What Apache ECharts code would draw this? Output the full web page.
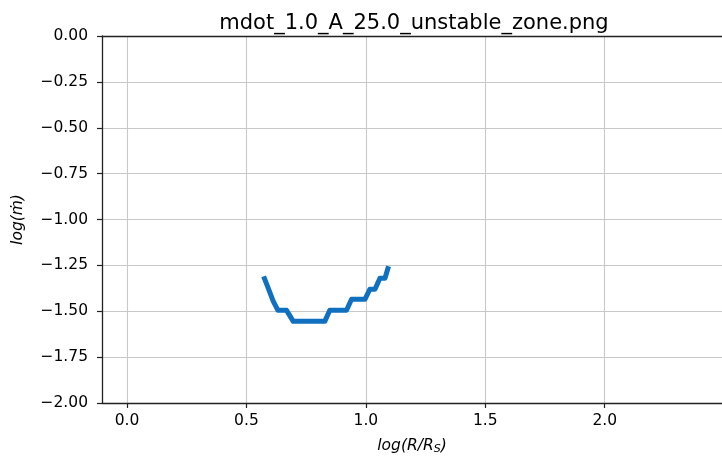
<!DOCTYPE html>
<html>
<head>
<meta charset="utf-8">
<script src="https://cdn.jsdelivr.net/npm/echarts@6/dist/echarts.min.js"></script>
<style>html,body{margin:0;padding:0;background:#fff}#c{width:722px;height:457px}</style>
</head>
<body>
<div id="c"></div>
<script>
const titleText = 'mdot_1.0_A_25.0_unstable_zone.png';
const xTicks = [0.0, 0.5, 1.0, 1.5, 2.0];
const yTicks = [0, -0.25, -0.5, -0.75, -1.0, -1.25, -1.5, -1.75, -2.0];
const logR = [0.572, 0.59, 0.612, 0.632, 0.668, 0.696, 0.72, 0.78, 0.828, 0.849, 0.919, 0.94, 0.996, 1.017, 1.038, 1.059, 1.08, 1.095];
const logMdot = [-1.31, -1.37, -1.445, -1.495, -1.495, -1.555, -1.555, -1.555, -1.555, -1.495, -1.495, -1.435, -1.435, -1.38, -1.38, -1.32, -1.32, -1.255];

const font = 'DejaVu Sans';
const chart = echarts.init(document.getElementById('c'), null, {renderer: 'canvas'});
const xMin = -0.1047, xMax = 2.491;
chart.setOption({
  animation: false,
  backgroundColor: '#fff',
  title: {
    text: titleText, left: 409, top: 8, textAlign: 'center',
    textStyle: {fontFamily: font, fontSize: 21, fontWeight: 'normal', color: '#000'}
  },
  grid: {left: 102, top: 36, right: 0, bottom: 54, containLabel: false, outerBoundsMode: 'none'},
  xAxis: [{
    type: 'value', min: xMin, max: xMax,
    name: '{i|log(R/R}{s|S}{i|)}', nameLocation: 'middle', nameGap: 33,
    nameTextStyle: {
      rich: {
        i: {fontFamily: font, fontStyle: 'italic', fontSize: 15.5, color: '#000', lineHeight: 20},
        s: {fontFamily: font, fontStyle: 'italic', fontSize: 11, color: '#000', lineHeight: 20, padding: [7, 0, 0, 0]}
      }
    },
    axisLine: {show: true, onZero: false, lineStyle: {color: '#222', width: 1.3}},
    axisTick: {show: true, inside: false, length: 5, customValues: xTicks, lineStyle: {color: '#222', width: 1.2}},
    axisLabel: {show: true, customValues: xTicks, margin: 10, fontFamily: font, fontSize: 15.5, color: '#000',
      formatter: v => v.toFixed(1).replace('-', '\u2212')},
    splitLine: {show: true, lineStyle: {color: '#c8c8c8', width: 1.1}}
  }, {
    type: 'value', min: xMin, max: xMax, position: 'top',
    axisLine: {show: true, onZero: false, lineStyle: {color: '#222', width: 1.3}},
    axisTick: {show: false}, axisLabel: {show: false}, splitLine: {show: false}
  }],
  yAxis: {
    type: 'value', min: -2, max: 0, interval: 0.25,
    name: 'log(\u1e41)', nameLocation: 'middle', nameGap: 76, nameRotate: 90,
    nameTextStyle: {fontFamily: font, fontStyle: 'italic', fontSize: 15.5, color: '#000'},
    axisLine: {show: true, onZero: false, lineStyle: {color: '#222', width: 1.3}},
    axisTick: {show: true, inside: false, length: 5, lineStyle: {color: '#222', width: 1.2}},
    axisLabel: {margin: 14, fontFamily: font, fontSize: 15.5, color: '#000',
      formatter: v => v.toFixed(2).replace('-', '\u2212')},
    splitLine: {show: true, lineStyle: {color: '#c8c8c8', width: 1.1}}
  },
  series: [{
    type: 'line', xAxisIndex: 0,
    data: logR.map((x, i) => [x, logMdot[i]]),
    showSymbol: false, symbol: 'none',
    lineStyle: {color: '#1070c0', width: 5, join: 'round', cap: 'butt'},
    z: 5
  }]
});
</script>
</body>
</html>
